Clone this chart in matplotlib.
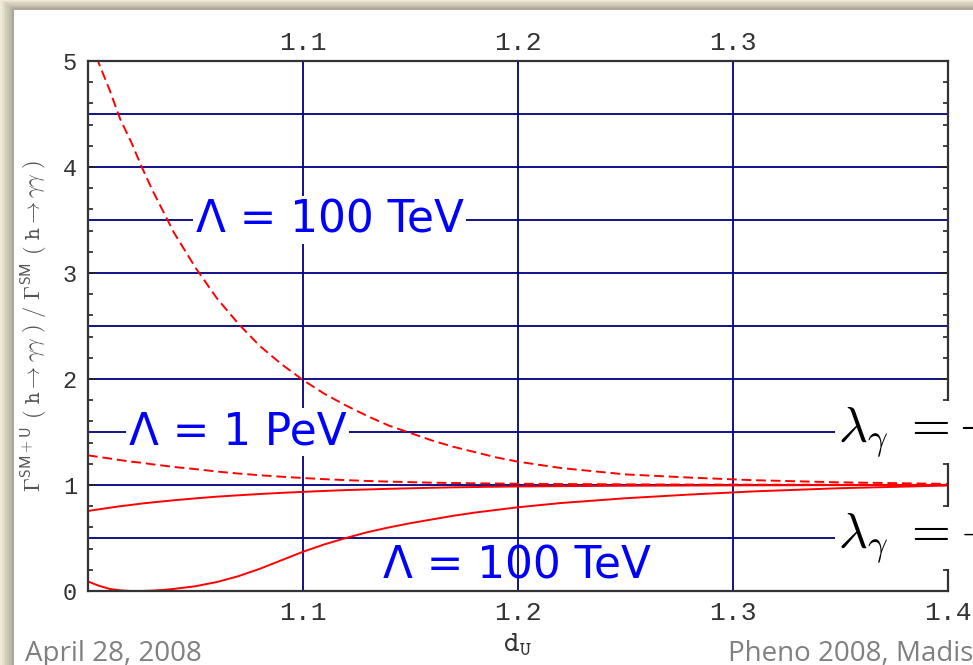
import matplotlib.pyplot as plt
from matplotlib.patches import Rectangle

# values
d_u = [1.0, 1.005, 1.01, 1.015, 1.02, 1.025, 1.03, 1.035, 1.04, 1.05, 1.06, 1.07, 1.08,
       1.09, 1.1, 1.11, 1.12, 1.13, 1.14, 1.15, 1.16, 1.17, 1.18, 1.19, 1.2,
       1.22, 1.25, 1.28, 1.31, 1.35, 1.4]
dashed_100tev = [5.30, 4.98, 4.73, 4.45, 4.24, 4.00, 3.78, 3.58, 3.38, 3.05, 2.76, 2.52, 2.31,
                 2.14, 1.99, 1.86, 1.75, 1.65, 1.56, 1.49, 1.42, 1.36, 1.31, 1.26, 1.22,
                 1.16, 1.10, 1.07, 1.045, 1.025, 1.01]
dashed_1pev = [1.28, 1.265, 1.25, 1.235, 1.22, 1.21, 1.195, 1.183, 1.17, 1.15, 1.127, 1.108, 1.092,
               1.078, 1.066, 1.055, 1.046, 1.038, 1.032, 1.027, 1.022, 1.019, 1.016, 1.014, 1.012,
               1.009, 1.006, 1.004, 1.003, 1.002, 1.001]
solid_1pev = [0.755, 0.77, 0.785, 0.80, 0.812, 0.825, 0.836, 0.846, 0.856, 0.874, 0.89, 0.903, 0.915,
              0.926, 0.935, 0.944, 0.952, 0.958, 0.964, 0.969, 0.974, 0.978, 0.981, 0.984, 0.986,
              0.989, 0.993, 0.995, 0.997, 0.999, 1.0]
solid_100tev = [0.09, 0.05, 0.02, 0.006, 0.0, 0.0, 0.004, 0.01, 0.02, 0.045, 0.085, 0.14, 0.21,
                0.29, 0.37, 0.44, 0.50, 0.555, 0.60, 0.64, 0.675, 0.71, 0.74, 0.765, 0.79,
                0.83, 0.875, 0.91, 0.94, 0.97, 0.995]

x_grid = [1.1, 1.2, 1.3]
y_grid = [0.5, 1.0, 1.5, 2.0, 2.5, 3.0, 3.5, 4.0, 4.5]

plt.rcParams['mathtext.fontset'] = 'cm'

W, H = 973, 665
fig = plt.figure(figsize=(W / 100, H / 100), dpi=100)
fig.patch.set_facecolor('white')

# slide shadow along the left and top edge
n = 8
c0 = (0.94, 0.92, 0.84)
c1 = (0.68, 0.66, 0.60)
for i in range(n):
    t = i / (n - 1)
    col = tuple(a + (b - a) * t for a, b in zip(c0, c1))
    fig.patches.append(Rectangle((i * 14 / n / W, 0), 14 / n / W + 0.0005, 1,
                                 transform=fig.transFigure, color=col, lw=0))
for i in range(n):
    t = i / (n - 1)
    col = tuple(a + (b - a) * t for a, b in zip(c0, c1))
    y0 = 1 - (i + 1) * 10 / n / H
    fig.patches.append(Rectangle((i * 14 / n / W, y0), 1, 10 / n / H + 0.0005,
                                 transform=fig.transFigure, color=col, lw=0))

ax = fig.add_axes([88 / W, 1 - 591 / H, 860 / W, 530 / H])

navy = '#000080'
for xv in x_grid:
    ax.axvline(xv, color=navy, lw=1.3, zorder=1)
for yv in y_grid:
    ax.axhline(yv, color=navy, lw=1.3, zorder=1)

ax.plot(d_u, dashed_100tev, color='red', lw=1.4, dashes=(5, 2.5), zorder=3)
ax.plot(d_u, dashed_1pev, color='red', lw=1.4, dashes=(5, 2.5), zorder=3)
ax.plot(d_u, solid_1pev, color='red', lw=1.4, zorder=3)
ax.plot(d_u, solid_100tev, color='red', lw=1.4, zorder=3)

ax.set_xlim(1.0, 1.4)
ax.set_ylim(0, 5)

tick_font = 'Liberation Mono'
ax.set_xticks([1.1, 1.2, 1.3, 1.4])
ax.set_xticklabels(['1.1', '1.2', '1.3', '1.4'], family=tick_font, fontsize=19, color='#333333')
ax.set_yticks([0, 1, 2, 3, 4, 5])
ax.set_yticklabels(['0', '1', '2', '3', '4', '5'], family=tick_font, fontsize=17, color='#333333')
ax.set_yticks([v / 5 for v in range(26) if v % 5 != 0], minor=True)
ax.tick_params(axis='x', direction='in', length=0, pad=7)
ax.tick_params(axis='y', which='major', direction='in', length=6, width=1.2, pad=8,
               right=True, color='#222222')
ax.tick_params(axis='y', which='minor', direction='in', length=3.5, width=1.2,
               right=True, color='#222222')

top = ax.secondary_xaxis('top')
top.set_xticks(x_grid)
top.set_xticklabels(['1.1', '1.2', '1.3'], family=tick_font, fontsize=19, color='#333333')
top.tick_params(direction='in', length=0, pad=4)
top.spines['top'].set_visible(False)

for s in ax.spines.values():
    s.set_color('#333333')
    s.set_linewidth(1.6)
    s.set_zorder(4)

ax.set_xlabel(r'$\mathtt{d}_{\mathtt{U}}$', fontsize=21, color='#333333', labelpad=4)
ax.set_ylabel(r'$\Gamma^{\mathsf{SM+U}}\mathtt{\ (\ h}\rightarrow\gamma\gamma\mathtt{\ )\ /\ }'
              r'\Gamma^{\mathsf{SM}}\mathtt{\ (\ h}\rightarrow\gamma\gamma\mathtt{\ )}$',
              fontsize=16, color='#555555', labelpad=9)

box = dict(facecolor='white', edgecolor='none', pad=2)
ax.text(1.05, 3.5, 'Λ = 100 TeV', color='blue', fontsize=31.5, va='center', ha='left',
        bbox=box, zorder=5)
ax.text(1.019, 1.5, 'Λ = 1 PeV', color='blue', fontsize=31.5, va='center', ha='left',
        bbox=box, zorder=5)
ax.text(1.137, 0.24, 'Λ = 100 TeV', color='blue', fontsize=31.5, va='center', ha='left',
        zorder=5)
ax.text(1.349, 1.5, r'$\lambda_\gamma\ = +1$', color='black', fontsize=36, va='center',
        ha='left', bbox=box, zorder=5)
ax.text(1.349, 0.5, r'$\lambda_\gamma\ = -1$', color='black', fontsize=36, va='center',
        ha='left', bbox=box, zorder=5)

# slide footer
fig.text(25 / W, 1 - 661 / H, 'April 28, 2008', family='Open Sans', fontsize=20,
         color='#808080', va='baseline')
fig.text(728 / W, 1 - 661 / H, 'Pheno 2008, Madison, WI', family='Open Sans', fontsize=20,
         color='#808080', va='baseline')

fig.savefig('out.png', dpi=100)
